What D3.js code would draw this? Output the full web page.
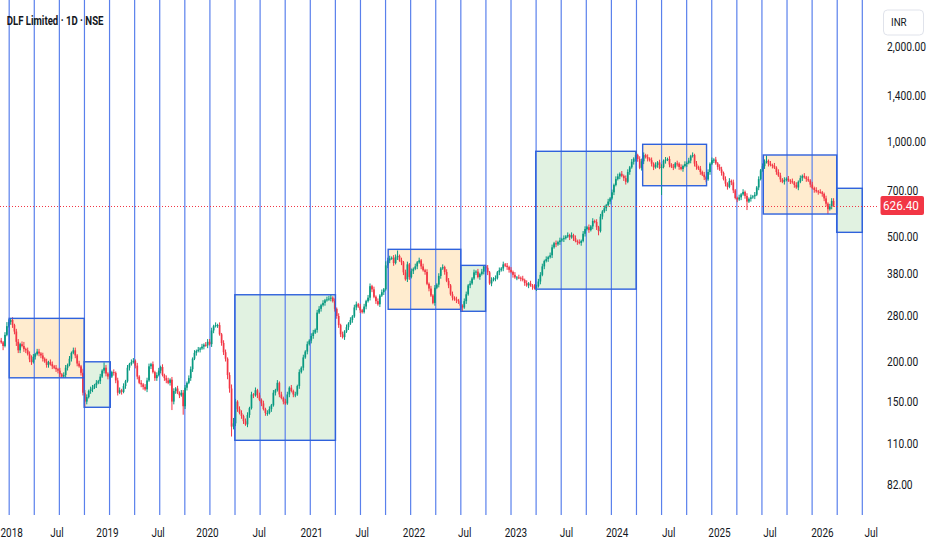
<!DOCTYPE html>
<html><head><meta charset="utf-8">
<script src="https://cdn.jsdelivr.net/npm/d3@7"></script>
<style>
html,body{margin:0;padding:0;background:#fff;}
svg{display:block;}
text{font-family:Roboto,"Noto Sans",sans-serif;fill:#131722;}
</style></head><body>
<svg id="chart" width="932" height="550"></svg>
<script>
// ---------------- DATA ----------------
const title = "DLF Limited · 1D · NSE";
const currency = "INR";
// weekly candles (week starting Monday), open = previous close
const firstOpen = 236;
const close2017 = [234,231,225,244,260];
const close2018 = [268,272,262,250,232, 218,228,225,220, 218,212,204,200, 208,212,216,213,210, 205,201,196,200, 197,194,192,190, 188,183,180,182,192, 196,205,214,218, 210,198,194,185, 160,150,155,162,164, 166,169,172,174, 180,188,192,184,180];
const close2019 = [180,186,185,175, 160,163,161,168, 174,192,197,200, 202,195,180,172,170, 167,164,175,194, 197,186,178,182, 188,193,182,178,175, 172,176,150,162, 165,160,157,160,145, 166,172,178,190, 205,214,217,219, 221,224,227,226,232];
const close2020 = [228,252,260,262, 262,245,230,215, 205,182,165,125,128, 150,142,138,135, 130,127,136,143, 158,157,163,157,152, 148,142,138,138, 142,146,160,163,172, 158,154,150,148, 158,166,162,158, 158,168,186,192,207, 216,228,234,242];
const close2021 = [248,253,287,295, 303,308,314,316, 318,320,312,295,280, 262,245,240,250, 258,265,272,279,298, 305,300,292,288, 300,312,320,348, 340,322,312,305,325, 333,340,405,420, 426,428,412,430, 434,420,414,385,366, 408,372,388,395];
const close2022 = [402,414,420,402,391, 386,354,342,325, 308,344,352,375, 396,400,386,362, 350,328,320,316,314, 312,302,298,312, 328,350,355,368, 385,387,372,380,387, 402,398,385,355, 364,368,369,385,391, 396,408,404,400, 392,386,378,371];
const close2023 = [371,370,368,364,356, 350,355,350,346, 343,348,360,378, 402,418,424,430, 436,462,476,472,480, 486,490,494,500, 505,497,505,494,484, 480,477,484,510, 528,535,524,538, 560,556,535,520,578, 600,614,628,645, 660,690,728,760];
const close2024 = [775,790,778,765,745, 800,828,862,882, 905,880,825,865, 905,892,882,872,850, 828,842,858,825, 830,868,875,880, 845,832,828,852,850, 830,818,836,848, 855,870,898,905,850, 830,820,800,785, 770,758,800,850, 872,876,852,830,815];
const close2025 = [795,760,735,718, 750,742,700,662, 655,665,680,692,672, 645,658,665,670, 678,715,760,810, 835,860,868,850,842, 838,826,800,780, 758,745,755,762, 752,748,742,728,715, 745,765,778,770, 760,752,730,712, 702,695,692,690,682];
const close2026 = [660,635,610,622,648,626.4];
// upper / lower wick beyond the body, in percent
const up2017 = [1,2,1,2,3];
const dn2017 = [2,1,3,1,1];
const up2018 = [2,1,2,1,2, 2,1,2,3, 1,2,2,3, 2,1,2,2,1, 2,1,2,1, 2,2,1,2, 1,2,1,2,2, 1,2,1,2, 2,1,2,1, 3,2,2,1,2, 2,1,2,1, 2,1,4,2,1];
const dn2018 = [1,2,2,2,3, 2,2,1,2, 2,1,2,2, 1,2,1,2,2, 2,1,2,2, 1,2,1,2, 2,2,1,1,2, 2,1,2,1, 2,2,1,2, 2,4,2,1,2, 2,1,2,1, 2,1,2,2,2];
const up2019 = [2,1,2,1, 2,2,1,2, 1,2,1,2, 2,1,2,1,2, 1,2,2,2, 1,2,1,2, 2,1,2,1,2, 2,1,2,2, 1,2,1,2,2, 2,1,2,2, 1,2,1,2, 1,2,1,2,2];
const dn2019 = [2,1,2,2, 2,1,2,1, 2,1,2,1, 1,2,2,1,2, 2,1,2,1, 2,1,2,2, 1,2,1,2,2, 1,2,6,2, 2,1,2,1,6, 2,2,1,2, 2,1,2,1, 2,1,2,1,2];
const up2020 = [2,2,1,2, 1,2,1,2, 2,1,2,3,4, 2,1,2,2, 1,2,2,1, 2,1,2,1,2, 1,2,1,2, 2,1,2,1,2, 1,2,1,2, 2,1,2,1, 2,1,2,1,2, 1,2,1,2];
const dn2020 = [1,2,2,1, 2,1,2,2, 2,3,3,7,2, 2,2,1,2, 2,1,2,2, 1,2,1,2,1, 2,1,2,2, 1,2,1,2,1, 2,1,2,1, 1,2,1,2, 2,1,2,1,2, 1,2,1,2];
const up2021 = [2,1,2,2, 1,2,1,2, 2,2,1,2,1, 2,1,2,1, 2,1,2,1,2, 2,1,2,1, 2,1,2,2, 1,2,1,2,1, 2,1,3,2, 2,1,2,2, 4,1,2,1,2, 2,1,2,1];
const dn2021 = [2,1,2,1, 2,1,2,1, 1,2,1,2,2, 2,2,1,2, 1,2,1,2,1, 2,1,2,1, 1,2,1,2, 2,1,2,1,2, 1,2,1,2, 2,1,2,1, 2,1,2,2,1, 2,2,1,2];
const up2022 = [2,1,2,1,2, 1,2,1,2, 1,2,1,2, 1,2,1,2, 2,1,2,1,2, 1,2,1,2, 2,1,2,1, 2,1,2,1,2, 1,1,2,1, 2,1,2,1,2, 1,2,1,2, 1,2,1,2];
const dn2022 = [1,2,1,2,1, 2,1,2,1, 1,2,1,2, 2,1,2,1, 2,1,2,1,2, 2,3,3,1, 2,1,2,1, 1,2,1,2,1, 2,1,2,1, 2,1,2,1,2, 1,2,1,2, 2,1,2,1];
const up2023 = [1,2,1,2,1, 2,1,2,1, 2,1,2,2, 2,1,2,1, 2,2,1,2,1, 2,1,2,1, 2,1,2,1,2, 1,2,1,2, 2,1,2,1, 2,1,2,1,2, 1,2,1,2, 1,2,1,2];
const dn2023 = [2,1,2,1,2, 1,2,1,2, 1,2,1,2, 1,2,1,2, 1,2,1,2,1, 2,1,2,1, 1,2,1,2,1, 2,1,2,1, 2,1,2,1, 2,1,2,3,1, 2,1,2,1, 2,1,2,1];
const up2024 = [2,1,2,1,2, 2,1,2,1, 3,1,2,2, 2,1,2,1,2, 1,2,1,2, 2,1,2,1, 2,1,2,1,2, 1,2,1,2, 1,2,1,2,1, 2,1,2,1, 2,1,2,1, 2,1,2,1,2];
const dn2024 = [1,2,1,2,2, 1,2,1,2, 2,2,1,2, 2,1,2,1,2, 2,1,2,1, 18,1,2,1, 2,1,2,1,2, 2,1,2,1, 2,1,2,1,2, 2,1,2,1, 2,2,1,2, 1,2,1,2,1];
const up2025 = [2,1,2,1, 2,1,2,1, 1,2,1,2,1, 2,1,2,1, 2,1,2,1, 2,2,4,1,2, 1,2,1,2, 2,1,2,1, 2,1,2,1,2, 1,2,1,2, 1,2,1,2, 1,2,1,2,1];
const dn2025 = [2,1,2,2, 1,2,2,1, 2,1,2,1,2, 6,1,2,1, 2,1,2,1, 1,2,1,2,1, 2,1,2,1, 2,1,2,1, 1,2,1,2,1, 2,1,2,1, 2,1,2,1, 2,1,2,1,2];
const up2026 = [1,2,1,2,2,2];
const dn2026 = [2,2,3.5,1,2,1];

// price axis ticks
const priceTicks = [2000,1400,1000,700,500,380,280,200,150,110,82];
// time axis labels
const timeTickDates = ["2018-01-01","2018-07-01","2019-01-01","2019-07-01","2020-01-01","2020-07-01","2021-01-01","2021-07-01","2022-01-01","2022-07-01","2023-01-01","2023-07-01","2024-01-01","2024-07-01","2025-01-01","2025-07-01","2026-01-01","2026-07-01"];
const timeTickLabels = ["2018","Jul","2019","Jul","2020","Jul","2021","Jul","2022","Jul","2023","Jul","2024","Jul","2025","Jul","2026","Jul"];
// cyclic vertical lines
const cycleFirst = "2018-01-05", cycleLast = "2026-05-29", cycleCount = 35;
// rectangles
const rectStart  = ["2018-01-05","2018-10-08","2020-04-06","2021-10-01","2022-06-17","2023-03-13","2024-03-31","2025-06-07","2026-02-23"];
const rectEnd    = ["2018-10-08","2019-01-11","2021-03-27","2022-06-17","2022-09-14","2024-03-08","2024-11-15","2026-02-23","2026-05-29"];
const rectTop    = [275.2, 200.5, 326.9, 455.3, 405.0, 930.6, 979.3, 905.8, 710.6];
const rectBottom = [178.4, 143.9, 113.1, 294.0, 289.8, 340.6, 724.0, 589.0, 515.4];
const rectKind   = ["orange","green","green","orange","green","green","orange","orange","green"];

// ---------------- BUILD ----------------
const parse = d3.timeParse("%Y-%m-%d");
const closes = [].concat(close2017,close2018,close2019,close2020,close2021,close2022,close2023,close2024,close2025,close2026);
const ups = [].concat(up2017,up2018,up2019,up2020,up2021,up2022,up2023,up2024,up2025,up2026);
const dns = [].concat(dn2017,dn2018,dn2019,dn2020,dn2021,dn2022,dn2023,dn2024,dn2025,dn2026);
const mondays = d3.timeMonday.range(new Date(2017,10,27), new Date(2026,1,10));
if (closes.length !== mondays.length || ups.length !== closes.length || dns.length !== closes.length)
  throw new Error("length mismatch " + closes.length + " " + ups.length + " " + dns.length + " " + mondays.length);

const candles = closes.map((c,i) => {
  const o = i === 0 ? firstOpen : closes[i-1];
  return { d: mondays[i], o, c,
    h: Math.max(o,c) * (1 + ups[i]/100),
    l: Math.min(o,c) * (1 - dns[i]/100) };
});
const lastPrice = closes[closes.length-1];

const W = 932, H = 550, plotRight = 879, plotBottom = 515;
const svg = d3.select("#chart");

const x = d3.scaleTime()
  .domain(timeTickDates.map(parse))
  .range([8.1,57,107.5,158.1,207.5,259.3,311.7,362.3,414,464.7,515.9,566.5,617.1,668.8,719.5,770,822.4,871.2]);
const y = d3.scaleLog().domain([65.6, 2805]).range([plotBottom, 0]);

const UP = "#089981", DOWN = "#F23645";
const LINE_BLUE = "#5a80ec", BORDER_BLUE = "#2f62dc";

svg.append("defs").append("clipPath").attr("id","plotclip")
  .append("rect").attr("x",0).attr("y",0).attr("width",plotRight).attr("height",plotBottom);
const plot = svg.append("g").attr("clip-path","url(#plotclip)");

// rectangle fills
const rects = rectStart.map((s,i) => ({ s: parse(s), e: parse(rectEnd[i]), t: rectTop[i], b: rectBottom[i], k: rectKind[i] }));
plot.append("g").selectAll("rect").data(rects).join("rect")
  .attr("x", d => x(d.s)).attr("width", d => x(d.e) - x(d.s))
  .attr("y", d => y(d.t)).attr("height", d => y(d.b) - y(d.t))
  .attr("fill", d => d.k === "orange" ? "rgba(255,152,0,0.19)" : "rgba(76,175,80,0.17)");

// cyclic lines
const cyc = d3.scaleLinear().domain([0, cycleCount-1]).range([x(parse(cycleFirst)), x(parse(cycleLast))]);
plot.append("g").selectAll("line").data(d3.range(cycleCount)).join("line")
  .attr("x1", k => cyc(k)).attr("x2", k => cyc(k))
  .attr("y1", 0).attr("y2", plotBottom)
  .attr("stroke", LINE_BLUE).attr("stroke-width", 1.2);

// candles
const cx = d => x(d3.timeHour.offset(d.d, 60));
const gC = plot.append("g");
gC.selectAll("line").data(candles).join("line")
  .attr("x1", cx).attr("x2", cx)
  .attr("y1", d => y(d.h)).attr("y2", d => y(d.l))
  .attr("stroke", d => d.c >= d.o ? UP : DOWN).attr("stroke-width", 1);
gC.selectAll("rect").data(candles).join("rect")
  .attr("x", d => cx(d) - 0.85).attr("width", 1.7)
  .attr("y", d => y(Math.max(d.o, d.c)))
  .attr("height", d => Math.max(1, Math.abs(y(d.o) - y(d.c))))
  .attr("fill", d => d.c >= d.o ? UP : DOWN);

// rectangle borders
plot.append("g").selectAll("rect").data(rects).join("rect")
  .attr("x", d => x(d.s)).attr("width", d => x(d.e) - x(d.s))
  .attr("y", d => y(d.t)).attr("height", d => y(d.b) - y(d.t))
  .attr("fill", "none").attr("stroke", BORDER_BLUE).attr("stroke-width", 1.4);

// last price dotted line
const py = y(lastPrice);
const pyLine = Math.round(py) + 0.5;
svg.append("line").attr("x1",0).attr("x2",plotRight)
  .attr("y1", pyLine).attr("y2", pyLine)
  .attr("stroke", DOWN).attr("stroke-width",1).attr("stroke-dasharray","1,2");

// helper: horizontally condensed text
function txt(g, px, pyy, str, size, sx, anchor, weight, fill) {
  return g.append("text")
    .attr("transform", `translate(${px},${pyy}) scale(${sx},1)`)
    .attr("text-anchor", anchor || "start")
    .attr("font-size", size)
    .attr("font-weight", weight || 400)
    .style("fill", fill || "#131722")
    .text(str);
}

// price axis labels
const fmt = d3.format(",.2f");
const gY = svg.append("g");
priceTicks.forEach(v => txt(gY, 887, y(v) + 4.3, fmt(v), 12, 0.85));

// currency box
svg.append("rect").attr("x",883.5).attr("y",10).attr("width",40).attr("height",25).attr("rx",4)
  .attr("fill","#fff").attr("stroke","#E0E3EB").attr("stroke-width",1);
txt(svg, 891, 26, currency, 11.5, 0.85);

// last price label
svg.append("rect").attr("x",880.5).attr("y",py-9.5).attr("width",43.5).attr("height",19).attr("rx",2).attr("fill",DOWN);
txt(svg, 883, py + 4.5, d3.format(".2f")(lastPrice), 13, 0.9, "start", 400, "#ffffff");

// time axis labels (first one kept inside the left edge)
const gX = svg.append("g");
timeTickDates.forEach((d,i) => {
  const px = x(parse(d));
  if (px < 12) txt(gX, 0.5, 536.5, timeTickLabels[i], 12, 0.83, "start");
  else txt(gX, px, 536.5, timeTickLabels[i], 12, 0.83, "middle");
});

// title
txt(svg, 6.7, 24.5, title, 13, 0.74, "start", 700);
</script>
</body></html>
